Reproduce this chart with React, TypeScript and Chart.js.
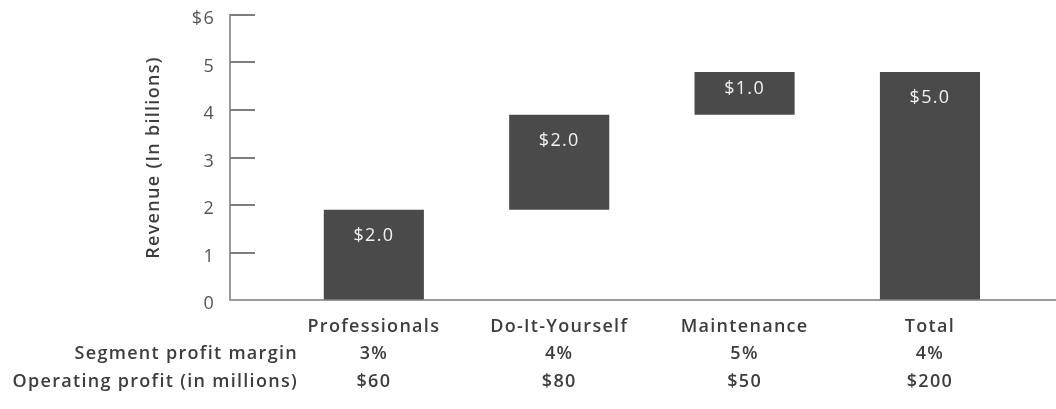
import React, { useEffect, useRef } from 'react';
import { Chart, registerables } from 'chart.js';

Chart.register(...registerables);

// ---- data ----
const categories = ['Professionals', 'Do-It-Yourself', 'Maintenance', 'Total'];
const categoryIndex = [0, 1, 2, 3];
const barStarts = [0, 1.9, 3.9, 0];
const barEnds = [1.9, 3.9, 4.8, 4.8];
const barLabels = ['$2.0', '$2.0', '$1.0', '$5.0'];
const profitMargins = ['3%', '4%', '5%', '4%'];
const operatingProfits = ['$60', '$80', '$50', '$200'];
const rowTitles = ['Segment profit margin', 'Operating profit (in millions)'];
const yTickLabels = ['0', '1', '2', '3', '4', '5', '$6'];
const yAxisTitle = 'Revenue (In billions)';

const FONT = '"Open Sans", sans-serif';
const SPACING = '1.3px';
const DARK = '#3d3d3d';

export default function App() {
  const ref = useRef<HTMLCanvasElement>(null);

  useEffect(() => {
    document.body.style.margin = '0';
    const canvas = ref.current;
    if (!canvas) return;

    const spacingPlugin = {
      id: 'letterSpacing',
      beforeUpdate(chart: any) {
        chart.ctx.letterSpacing = SPACING;
      },
      beforeLayout(chart: any) {
        chart.ctx.letterSpacing = SPACING;
      },
      beforeDraw(chart: any) {
        chart.ctx.letterSpacing = SPACING;
      },
    };

    const decorPlugin = {
      id: 'decor',
      afterDraw(chart: any) {
        const ctx = chart.ctx;
        const area = chart.chartArea;
        const xs = chart.scales.x;
        const ys = chart.scales.y;
        ctx.save();
        ctx.letterSpacing = SPACING;
        // inner tick marks on the y axis
        ctx.strokeStyle = '#7d7d7d';
        ctx.lineWidth = 2;
        ys.ticks.forEach((t: any) => {
          if (t.value === 0) return;
          const py = Math.round(ys.getPixelForValue(t.value));
          ctx.beginPath();
          ctx.moveTo(area.left, py);
          ctx.lineTo(area.left + 25, py);
          ctx.stroke();
        });

        // bar value labels
        const meta = chart.getDatasetMeta(0);
        ctx.fillStyle = '#f2f2f2';
        ctx.font = `400 18px ${FONT}`;
        ctx.textAlign = 'center';
        ctx.textBaseline = 'middle';
        meta.data.forEach((bar: any, i: number) => {
          const top = Math.min(bar.y, bar.base);
          const h = Math.abs(bar.base - bar.y);
          const ly = top + Math.min(26, h / 2 - 5);
          ctx.fillText(barLabels[i], bar.x, ly);
        });

        // table rows under the axis
        const rowY = [area.bottom + 54, area.bottom + 82];
        ctx.fillStyle = DARK;
        ctx.font = `600 18px ${FONT}`;
        ctx.textAlign = 'right';
        rowTitles.forEach((t, r) => ctx.fillText(t, 298, rowY[r]));
        ctx.textAlign = 'center';
        categoryIndex.forEach((c, i) => {
          const px = xs.getPixelForValue(c);
          ctx.fillText(profitMargins[i], px, rowY[0]);
          ctx.fillText(operatingProfits[i], px, rowY[1]);
        });
        ctx.restore();
      },
    };

    const chart = new Chart(canvas, {
      type: 'bar',
      data: {
        datasets: [
          {
            data: categoryIndex.map((c, i) => ({ x: c, y: [barStarts[i], barEnds[i]] })) as any,
            backgroundColor: '#4a4a4a',
            borderWidth: 0,
            barPercentage: 0.54,
            categoryPercentage: 1,
          },
        ],
      },
      options: {
        animation: false,
        responsive: true,
        maintainAspectRatio: false,
        layout: { padding: { top: 15, right: 0, bottom: 0, left: 0 } },
        plugins: {
          legend: { display: false },
          tooltip: { enabled: false },
        },
        scales: {
          x: {
            type: 'linear',
            offset: false,
            min: -0.776,
            max: 3.68,
            grid: { display: false, drawTicks: false, offset: false },
            border: { display: true, color: '#9a9a9a', width: 2 },
            ticks: {
              stepSize: 1,
              includeBounds: false,
              autoSkip: false,
              maxRotation: 0,
              padding: 16,
              color: DARK,
              font: { family: FONT, size: 18, weight: '600' as any },
              callback: (v: any) => (Number.isInteger(v) && categories[v] ? categories[v] : ''),
            },
            afterFit: (s: any) => {
              s.height = 109;
            },
          },
          y: {
            type: 'linear',
            min: 0,
            max: 6,
            grid: {
              display: true,
              drawOnChartArea: false,
              drawTicks: true,
              tickLength: 15,
              tickColor: 'rgba(0,0,0,0)',
              color: 'rgba(0,0,0,0)',
            },
            border: { display: true, color: '#9a9a9a', width: 2 },
            ticks: {
              stepSize: 1,
              padding: 0,
              labelOffset: 4,
              color: '#555555',
              font: { family: FONT, size: 18, weight: '400' as any },
              callback: (v: any) => yTickLabels[v] ?? '',
            },
            title: {
              display: true,
              text: yAxisTitle,
              color: DARK,
              font: { family: FONT, size: 18, weight: '600' as any },
              padding: { top: 143, bottom: 0 },
            },
            afterFit: (s: any) => {
              s.width = 230;
            },
          },
        },
      },
      plugins: [spacingPlugin, decorPlugin],
    });

    return () => chart.destroy();
  }, []);

  return (
    <div style={{ position: 'relative', width: 1056, height: 409 }}>
      <canvas ref={ref} />
    </div>
  );
}
